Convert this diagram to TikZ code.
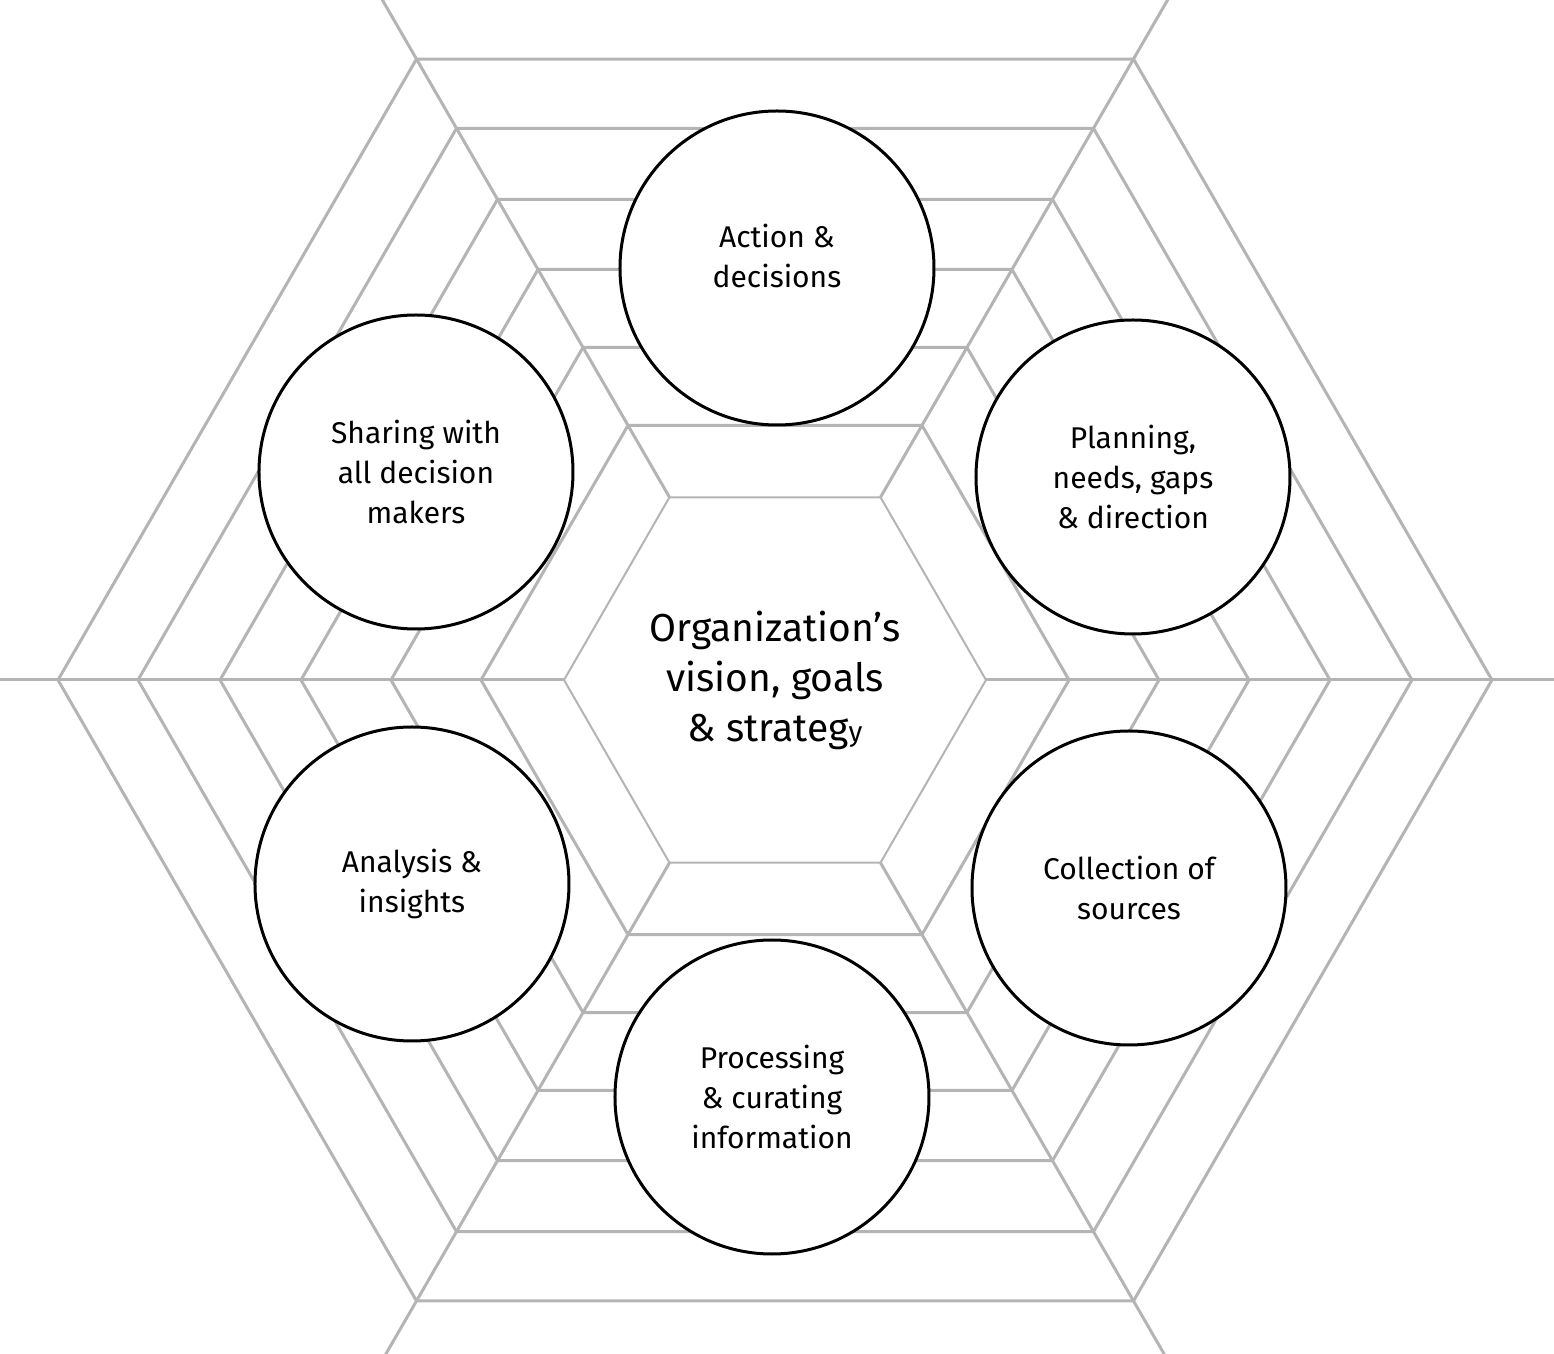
\documentclass[tikz,border=0pt]{standalone}
\usepackage{fontspec}
\setmainfont{Fira Sans}
\usetikzlibrary{positioning}
\definecolor{webgrey}{RGB}{180,180,180}

\begin{document}
\begin{tikzpicture}[x=0.5pt, y=0.5pt, web/.style={draw=webgrey, line width=1.5pt}, core/.style={draw=webgrey, line width=1pt}, stage/.style={circle, draw=black, line width=1.5pt, fill=white, minimum size=157pt, align=center, font=\fontsize{15}{20}\selectfont}]
	\useasboundingbox (-775,-674) rectangle (779,680);
	\clip (-775,-674) rectangle (779,680);
	% web of hexagons
	\foreach \r in {294,384,474,555,637,717}
		\draw[web] (0:\r) -- (60:\r) -- (120:\r) -- (180:\r) -- (240:\r) -- (300:\r) -- cycle;
	\draw[core] (0:211) -- (60:211) -- (120:211) -- (180:211) -- (240:211) -- (300:211) -- cycle;
	\foreach \a in {0,60,...,300}
		\draw[web] (\a:211) -- (\a:1000);
	% centre and stages
	\node[align=center, font=\fontsize{19.5}{25}\selectfont] (goal) at (0,0) {Organization’s\\vision, goals\\\& strateg{\fontsize{14}{25}\selectfont y}};
	\node[stage] (act) at (2,412) {Action \&\\decisions\\[-8pt]};
	\node[stage] (plan) at (358,203) {Planning,\\needs, gaps\\\& direction};
	\node[stage] (coll) at (354,-208) {Collection of\\sources};
	\node[stage] (proc) at (-3,-417) {Processing\\\& curating\\information};
	\node[stage] (anal) at (-363,-204) {Analysis \&\\insights};
	\node[stage] (share) at (-359,208) {Sharing with\\all decision\\makers};
\end{tikzpicture}
\end{document}
